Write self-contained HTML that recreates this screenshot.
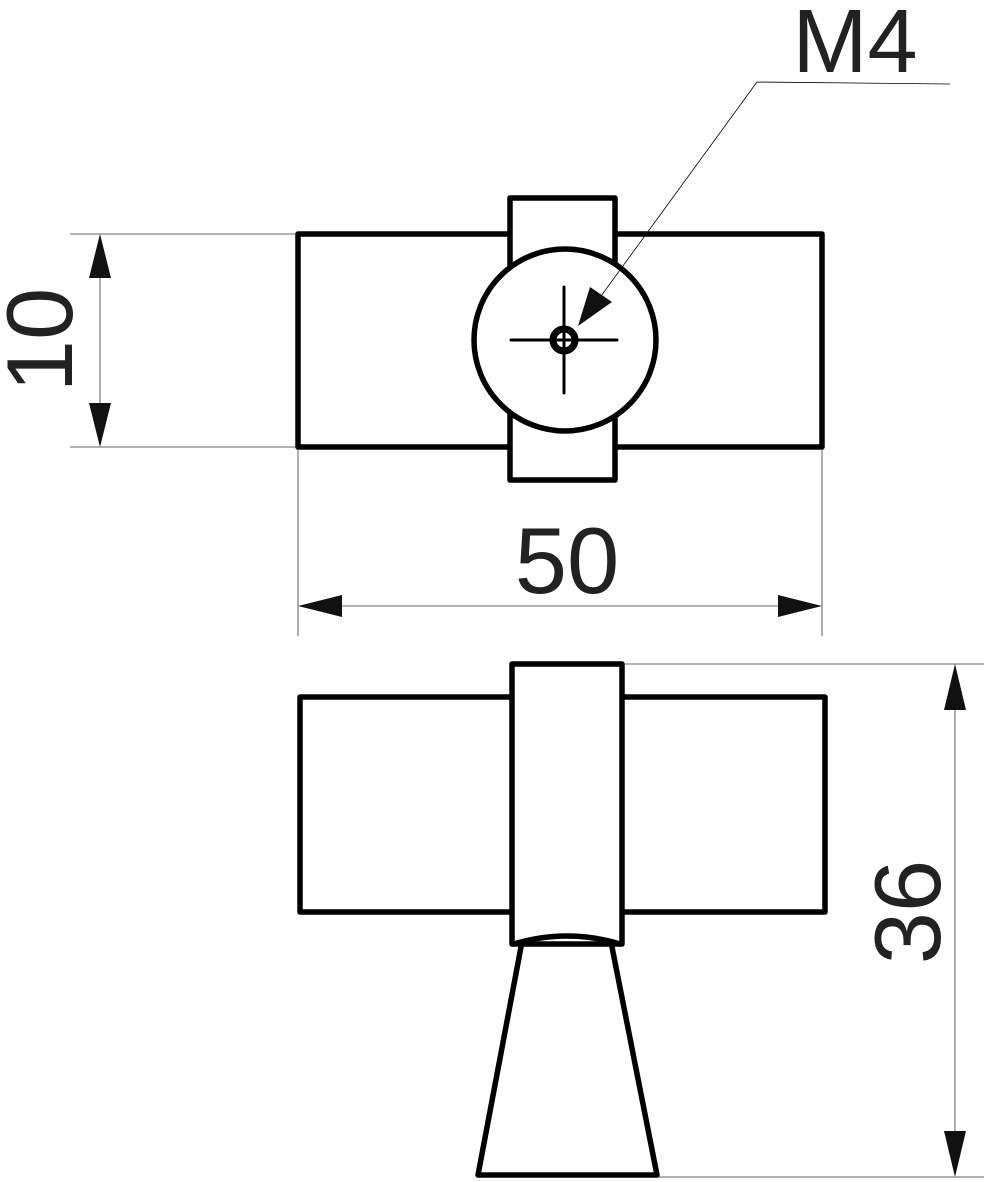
<!DOCTYPE html>
<html><head><meta charset="utf-8"><style>html,body{margin:0;padding:0;background:#fff}svg{display:block}</style></head>
<body>
<svg width="984" height="1182" viewBox="0 0 984 1182" xmlns="http://www.w3.org/2000/svg">
<g fill="none" stroke="#000" stroke-linejoin="round" stroke-linecap="round">
<rect x="298" y="234" width="524" height="213" stroke-width="5.5"/>
<rect x="510" y="198" width="105" height="282" stroke-width="5.5" fill="#fff"/>
<circle cx="565" cy="340" r="91" stroke-width="5.5" fill="#fff"/>
<line x1="511" y1="340" x2="617" y2="340" stroke-width="3"/>
<line x1="564" y1="287" x2="564" y2="393" stroke-width="3"/>
<circle cx="564" cy="340" r="11" stroke-width="7"/>
<polyline points="950,84 757,82 585,318" stroke-width="0.8" stroke-linecap="butt"/>
<rect x="300" y="697" width="525" height="215" stroke-width="5.5"/>
<rect x="512" y="664" width="110" height="280" stroke-width="5.5" fill="#fff"/>
<path d="M514 944 Q567 928 620 944" stroke-width="5.5"/>
<path d="M521 947 L478 1175 L657 1175 L612 947" stroke-width="5.5"/>
<g stroke-width="0.8" stroke="#333" stroke-linecap="butt">
<line x1="70" y1="234" x2="298" y2="234"/>
<line x1="70" y1="447" x2="298" y2="447"/>
<line x1="100" y1="240" x2="100" y2="441"/>
<line x1="298" y1="450" x2="298" y2="636"/>
<line x1="822" y1="450" x2="822" y2="636"/>
<line x1="300" y1="606" x2="820" y2="606"/>
<line x1="622" y1="664" x2="984" y2="664"/>
<line x1="657" y1="1177" x2="984" y2="1177"/>
<line x1="955" y1="666" x2="955" y2="1175"/>
</g>
</g>
<g fill="#111">
<polygon points="578,326 590,287 612,302"/>
<polygon points="100,234 89,278 111,278"/>
<polygon points="100,447 89,403 111,403"/>
<polygon points="298,606 342,595 342,617"/>
<polygon points="822,606 778,595 778,617"/>
<polygon points="955,664 944,710 966,710"/>
<polygon points="955,1177 944,1131 966,1131"/>
</g>
<g font-family="'Liberation Sans', sans-serif" fill="#222">
<text x="567" y="593" font-size="94" text-anchor="middle">50</text>
<text x="855" y="72" font-size="90" text-anchor="middle">M4</text>
<text transform="translate(72,340) rotate(-90)" font-size="94" text-anchor="middle">10</text>
<text transform="translate(940,912) rotate(-90)" font-size="94" text-anchor="middle">36</text>
</g>
</svg>
</body></html>
